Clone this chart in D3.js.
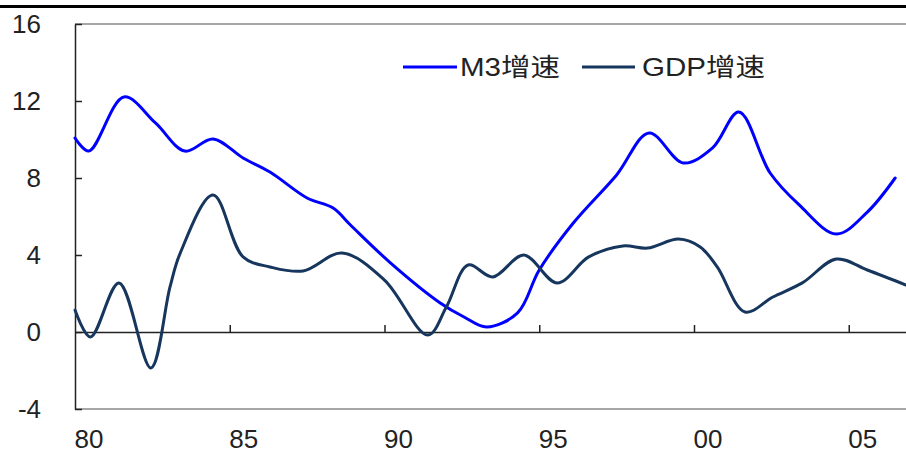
<!DOCTYPE html>
<html>
<head>
<meta charset="utf-8">
<script src="https://cdn.jsdelivr.net/npm/d3@7/dist/d3.min.js"></script>
<style>
  html, body { margin: 0; padding: 0; background: #fff; }
  svg { display: block; }
</style>
</head>
<body>
<script>
// M3 and GDP growth rates, 1980–2006 (smoothed series)
const m3Years = [1980, 1980.45, 1981.58, 1982.6, 1983.55, 1984.46, 1985.43, 1986.3, 1987.5, 1988.34, 1988.9,
  1990.2, 1991.8, 1992.57, 1993.3, 1994.3, 1995.0, 1996.1, 1997.5, 1998.55, 1999.65, 2000.6, 2001.45,
  2002.46, 2003.4, 2004.6, 2005.6, 2006.5];
const m3Values = [10.08, 9.40, 12.21, 10.86, 9.40, 10.03, 9.04, 8.31, 6.96, 6.44, 5.56,
  3.58, 1.51, 0.78, 0.26, 0.99, 3.22, 5.66, 8.16, 10.34, 8.78, 9.56, 11.43,
  8.26, 6.60, 5.09, 6.23, 8.0];

const gdpYears = [1980, 1980.5, 1981.42, 1982.45, 1983.07, 1983.4, 1984.46, 1985.43, 1986.3, 1987.37, 1988.63,
  1990.0, 1991.4, 1992.0, 1992.7, 1993.5, 1994.5, 1995.58, 1996.6, 1997.7, 1998.5, 1999.5, 2000.2,
  2000.75, 2001.65, 2002.55, 2003.5, 2004.6, 2005.6, 2006.85];
const gdpValues = [1.14, -0.26, 2.55, -1.87, 2.34, 4.10, 7.12, 3.90, 3.38, 3.17, 4.10,
  2.70, -0.16, 1.30, 3.48, 2.86, 4.0, 2.55, 3.90, 4.47, 4.36, 4.83, 4.42,
  3.38, 1.04, 1.82, 2.55, 3.79, 3.22, 2.44];

const yTicks = [16, 12, 8, 4, 0, -4];
const xTicks = [1980, 1985, 1990, 1995, 2000, 2005];
const xTickLabels = ["80", "85", "90", "95", "00", "05"];

const seriesNames = ["M3增速", "GDP增速"];
const seriesColors = ["#0000ff", "#17365d"];

const W = 906, H = 454;
const plotLeft = 75, plotTop = 24, plotBottom = 409;

const svg = d3.select("body").append("svg")
  .attr("width", W).attr("height", H);

const x = d3.scaleLinear().domain([1980, 2006.85]).range([plotLeft, 906]);
const y = d3.scaleLinear().domain([-4, 16]).range([plotBottom, plotTop]);

// heavy rule across the top of the figure
svg.append("line")
  .attr("x1", 0).attr("x2", W).attr("y1", 6.5).attr("y2", 6.5)
  .attr("stroke", "#000").attr("stroke-width", 3);

// grey frame lines at top and bottom of the plot
[plotTop, plotBottom].forEach(v => {
  svg.append("line")
    .attr("x1", plotLeft).attr("x2", W).attr("y1", v).attr("y2", v)
    .attr("stroke", "#a6a6a6").attr("stroke-width", 2);
});

// value axis with inward ticks
const yAxis = d3.axisRight(y).tickValues(yTicks).tickSize(7).tickSizeOuter(0).tickFormat("");
const gy = svg.append("g").attr("transform", `translate(${plotLeft},0)`).call(yAxis);
gy.select(".domain").attr("stroke", "#222").attr("stroke-width", 1.5);
gy.selectAll(".tick line").attr("stroke", "#222").attr("stroke-width", 1.5);

svg.append("g").selectAll("text").data(yTicks).join("text")
  .attr("x", 41).attr("y", d => y(d))
  .attr("dy", "0.36em")
  .attr("text-anchor", "end")
  .attr("font-family", "'Liberation Sans', Arial, sans-serif")
  .attr("font-size", 26)
  .attr("fill", "#222")
  .text(d => d);

// category axis along zero, ticks pointing up
const xAxis = d3.axisTop(x).tickValues(xTicks.slice(1)).tickSize(7).tickSizeOuter(0).tickFormat("");
const gx = svg.append("g").attr("transform", `translate(0,${y(0)})`).call(xAxis);
gx.select(".domain").attr("stroke", "#222").attr("stroke-width", 1.5);
gx.selectAll(".tick line").attr("stroke", "#222").attr("stroke-width", 1.5);

svg.append("g").selectAll("text").data(xTicks).join("text")
  .attr("x", d => x(d) + 14).attr("y", 448)
  .attr("text-anchor", "middle")
  .attr("font-family", "'Liberation Sans', Arial, sans-serif")
  .attr("font-size", 26)
  .attr("fill", "#222")
  .text((d, i) => xTickLabels[i]);

// series lines
const line = d3.line()
  .x(d => x(d[0])).y(d => y(d[1]))
  .curve(d3.curveCatmullRom.alpha(0.5));

const series = [
  d3.zip(m3Years, m3Values),
  d3.zip(gdpYears, gdpValues)
];

svg.append("g").selectAll("path").data(series).join("path")
  .attr("d", line)
  .attr("fill", "none")
  .attr("stroke", (d, i) => seriesColors[i])
  .attr("stroke-width", 3)
  .attr("stroke-linejoin", "round")
  .attr("stroke-linecap", "round");

// legend
const legendItems = [
  { x1: 403, x2: 457, tx: 460, tw: 100 },
  { x1: 582, x2: 635, tx: 642, tw: 123 }
];
const lg = svg.append("g");
legendItems.forEach((it, i) => {
  lg.append("line")
    .attr("x1", it.x1).attr("x2", it.x2).attr("y1", 67).attr("y2", 67)
    .attr("stroke", seriesColors[i]).attr("stroke-width", 3);
  lg.append("text")
    .attr("x", it.tx).attr("y", 76)
    .attr("font-family", "'Liberation Sans', 'Noto Sans CJK SC', sans-serif")
    .attr("font-size", 25)
    .attr("fill", "#222")
    .attr("textLength", it.tw)
    .attr("lengthAdjust", "spacingAndGlyphs")
    .text(seriesNames[i]);
});
</script>
</body>
</html>
